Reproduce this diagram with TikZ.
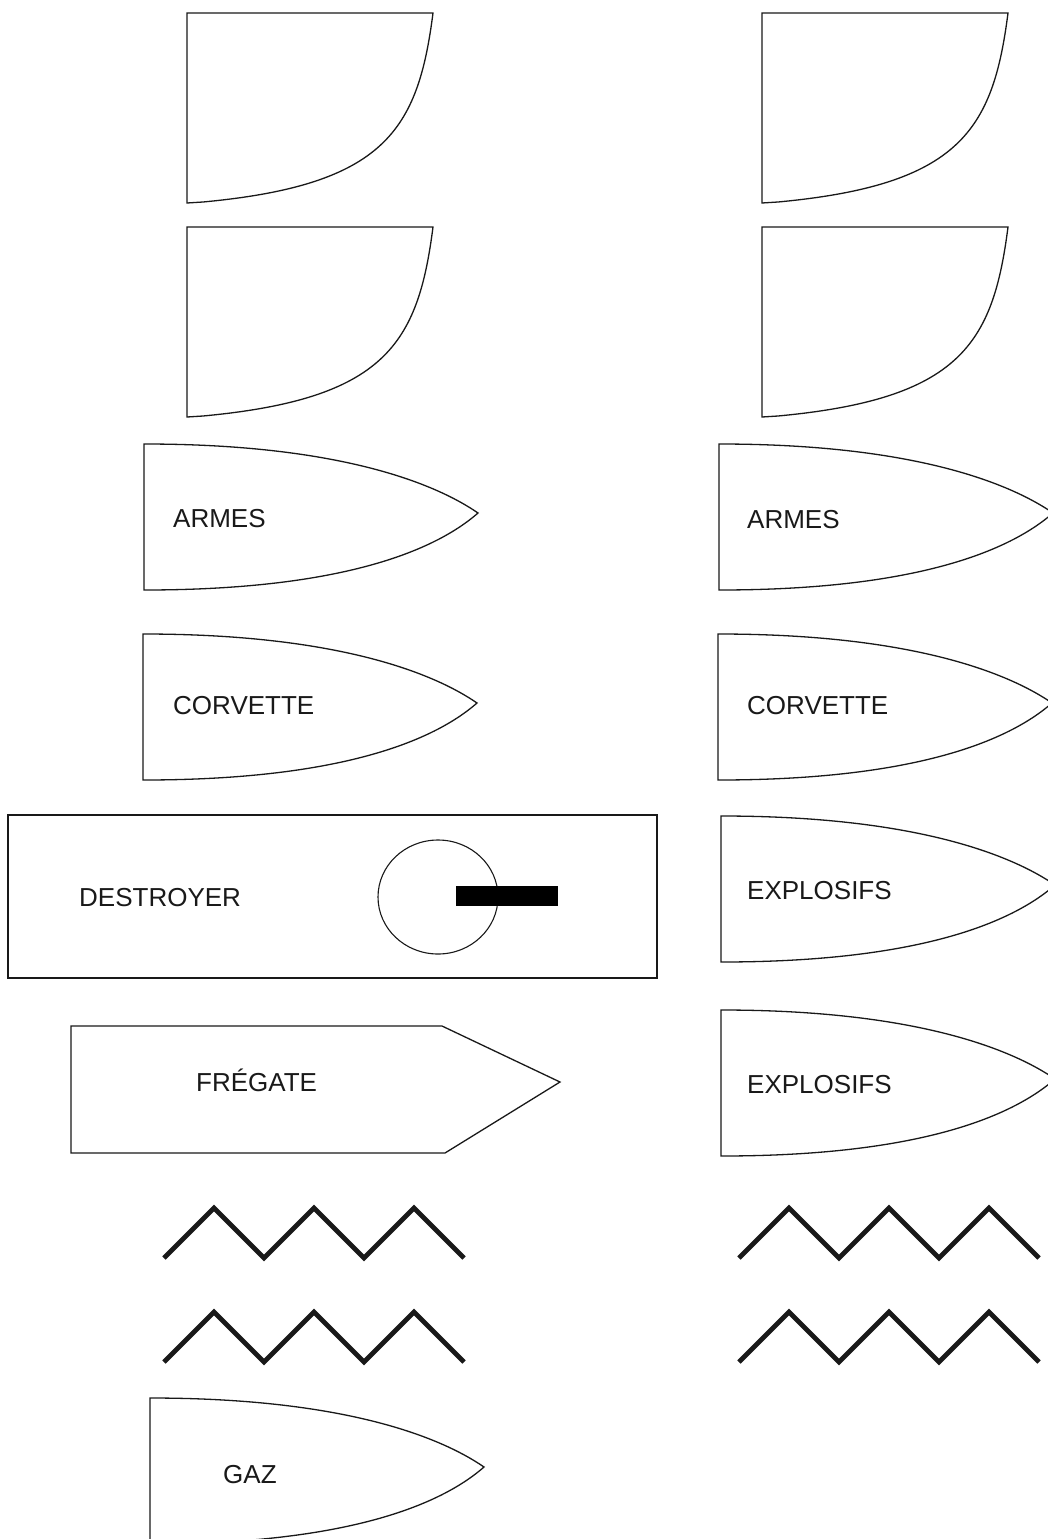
\documentclass[tikz,border=0pt]{standalone}
\usepackage{fontspec}
\setmainfont{Liberation Sans}
\tikzset{
  outline/.style={draw=black!90, line width=1.3pt, line join=miter},
  zig/.style={draw=black!90, line width=4.8pt, line join=miter, line cap=butt},
  tagtext/.style={anchor=base west, inner sep=0pt, font=\fontsize{26}{30}\selectfont, text=black!90},
}
\newcommand\quartershape[2]{%
  \begin{scope}[shift={(#1,#2)}]
    \draw[outline] (0,0) -- (246,0) .. controls (231,117) and (198,172) .. (16,189) -- (0,190) -- cycle;
  \end{scope}}
\newcommand\shellshape[2]{%
  \begin{scope}[shift={(#1,#2)}]
    \draw[outline] (0,0) .. controls (186,0) and (286,36) .. (334,69)
      .. controls (286,111) and (186,146) .. (0,146) -- cycle;
  \end{scope}}
\newcommand\zigline[2]{%
  \begin{scope}[shift={(#1,#2)}]
    \draw[zig] (0,50) -- (50,0) -- (100,50) -- (150,0) -- (200,50) -- (250,0) -- (300,50);
  \end{scope}}
\begin{document}
\begin{tikzpicture}[x=1pt,y=-1pt]
  \fill[white] (0,0) rectangle (1047,1539);
  \useasboundingbox (0,0) rectangle (1047,1539);
  % quarter shapes
  \quartershape{187}{13}
  \quartershape{187}{227}
  \quartershape{762}{13}
  \quartershape{762}{227}
  % shells left
  \shellshape{144}{444}
  \node[tagtext] (armesL) at (173,527) {ARMES};
  \shellshape{143}{634}
  \node[tagtext] (corvL) at (173,714) {CORVETTE};
  % shells right
  \shellshape{719}{444}
  \node[tagtext] (armesR) at (747,528) {ARMES};
  \shellshape{718}{634}
  \node[tagtext] (corvR) at (747,714) {CORVETTE};
  \shellshape{721}{816}
  \node[tagtext] (explA) at (747,899) {EXPLOSIFS};
  \shellshape{721}{1010}
  \node[tagtext] (explB) at (747,1093) {EXPLOSIFS};
  % destroyer
  \draw[outline] (8,815) rectangle (657,978);
  \node[tagtext] (destr) at (79,906) {DESTROYER};
  \draw[outline, line width=1.1pt] (438,897) ellipse [x radius=60pt, y radius=57pt];
  \fill[black] (456,886) rectangle (558,906);
  % fregate
  \draw[outline] (71,1026) -- (442,1026) -- (560,1082) -- (445,1153) -- (71,1153) -- cycle;
  \node[tagtext] (freg) at (196,1091) {FRÉGATE};
  % zigzags
  \zigline{164}{1208}
  \zigline{164}{1312}
  \zigline{739}{1208}
  \zigline{739}{1312}
  % gaz
  \shellshape{150}{1398}
  \node[tagtext] (gaz) at (223,1483) {GAZ};
\end{tikzpicture}
\end{document}
